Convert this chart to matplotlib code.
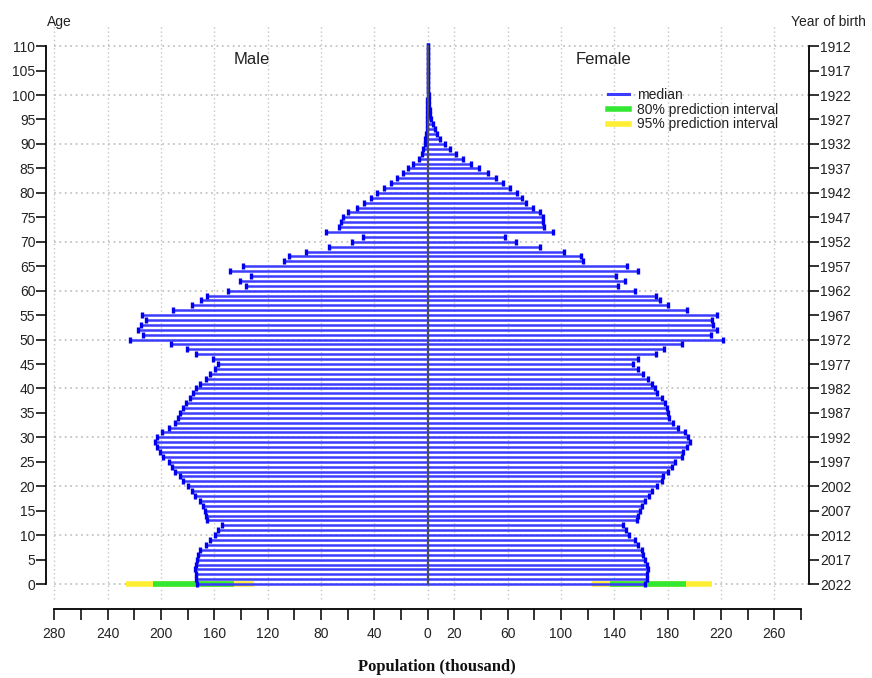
import matplotlib
matplotlib.use('Agg')
import matplotlib.pyplot as plt
from matplotlib.lines import Line2D
import numpy as np

plt.rcParams['font.family'] = ['Liberation Sans', 'DejaVu Sans']

# population by single year of age (thousand), ages 0..110
ages = np.arange(0, 111)
male = [172.8, 173.5, 173.8, 174.6, 173.8, 173.3, 172.1, 170.8, 166.3, 163.3,
        159.6, 157.1, 154.5, 165.8, 166.3, 167.1, 168.4, 170.8, 174.6, 177.0,
        179.6, 183.4, 185.8, 189.6, 192.0, 193.8, 198.3, 200.8, 202.8, 204.6,
        202.8, 199.6, 193.8, 189.6, 187.0, 185.5, 183.5, 181.0, 178.5, 176.0,
        173.5, 170.8, 166.3, 163.3, 159.5, 157.5, 161.3, 173.8, 180.3, 192.8,
        223.3, 213.8, 217.6, 215.3, 211.3, 214.6, 191.3, 177.0, 170.0, 165.8,
        149.6, 136.5, 140.8, 132.8, 148.3, 138.8, 107.6, 103.8, 91.5, 74.0,
        57.0, 48.8, 76.5, 66.5, 65.3, 63.8, 59.8, 53.3, 47.5, 42.8,
        37.8, 32.5, 27.8, 23.3, 18.8, 14.5, 10.8, 6.5, 4.5, 3.2,
        2.3, 1.7, 1.2, 0.9, 0.7, 0.5, 0.4, 0.3, 0.25, 0.2,
        0.15, 0.1, 0.1, 0.1, 0.1, 0.1, 0.1, 0.1, 0.1, 0.1, 0.1]
female = [163.0, 164.2, 164.7, 165.5, 164.2, 163.0, 161.8, 160.5, 158.0, 155.5,
          151.2, 148.8, 146.7, 157.3, 158.0, 159.3, 160.5, 163.0, 166.3, 168.0,
          171.8, 175.5, 176.8, 180.5, 183.0, 185.5, 190.5, 191.8, 194.3, 196.8,
          195.5, 193.0, 188.0, 183.8, 181.3, 180.5, 179.8, 178.0, 175.5, 172.3,
          170.5, 168.0, 165.5, 161.3, 158.0, 154.3, 158.0, 171.3, 177.3, 190.5,
          221.3, 212.3, 216.8, 214.3, 213.0, 216.8, 194.3, 180.5, 174.3, 171.3,
          155.5, 143.0, 148.0, 141.3, 158.0, 149.7, 116.7, 114.8, 102.2, 84.2,
          66.2, 58.0, 94.2, 87.2, 86.7, 86.3, 84.2, 78.8, 73.7, 70.5,
          66.8, 61.7, 56.7, 51.2, 45.5, 38.7, 32.3, 26.3, 21.2, 17.0,
          13.0, 9.5, 7.0, 5.2, 3.8, 2.8, 2.0, 1.5, 1.1, 0.8,
          0.6, 0.45, 0.35, 0.25, 0.2, 0.15, 0.1, 0.1, 0.1, 0.1, 0.1]

# prediction intervals at age 0
male_pi80 = [145, 206]
male_pi95 = [130, 226]
female_pi80 = [137, 194]
female_pi95 = [123, 213]

left_labels = [280, 240, 200, 160, 120, 80, 40, 0]
right_labels = [20, 60, 100, 140, 180, 220, 260]

blue = '#3c3cff'
green = '#33e833'
yellow = '#ffee33'
grid_c = '#c4c4c4'
txt_c = '#222222'

fig = plt.figure(figsize=(8.72, 6.78), dpi=100)
ax = fig.add_axes([0.0532, 0.1097, 0.8746, 0.8583])
ax.set_xlim(-286, 286)
ax.set_ylim(-4, 115)

# grid
xgrid = [-v for v in left_labels] + right_labels
for gx in xgrid:
    ax.plot([gx, gx], [-3, 114.5], color=grid_c, lw=1, ls=(0, (1, 2)), zorder=0)
for gy in range(0, 111, 10):
    ax.plot([-280, 286], [gy, gy], color=grid_c, lw=1.3, ls=(0, (1, 2)), zorder=0)

# prediction intervals (age 0)
ax.plot([-male_pi95[1], -male_pi95[0]], [0, 0], color=yellow, lw=4, solid_capstyle='butt', zorder=2)
ax.plot([-male_pi80[1], -male_pi80[0]], [0, 0], color=green, lw=4, solid_capstyle='butt', zorder=2)
ax.plot(female_pi95, [0, 0], color=yellow, lw=4, solid_capstyle='butt', zorder=2)
ax.plot(female_pi80, [0, 0], color=green, lw=4, solid_capstyle='butt', zorder=2)

# median bars
m = np.array(male)
f = np.array(female)
ax.hlines(ages, -m, 0, color=blue, lw=1.8, zorder=3)
ax.hlines(ages, 0, f, color=blue, lw=1.8, zorder=3)
ax.plot(-m, ages, ls='none', marker='|', ms=5, mew=2.4, color='#0000ee', zorder=4)
ax.plot(f, ages, ls='none', marker='|', ms=5, mew=2.4, color='#0000ee', zorder=4)
ax.plot([0, 0], [0, 110], color='#4a4a6a', lw=1.6, zorder=4)

# axes styling
for s in ['top', 'right']:
    ax.spines[s].set_visible(False)
ax.spines['left'].set_bounds(0, 110)
ax.spines['left'].set_linewidth(1.3)
ax.spines['bottom'].set_bounds(-280, 280)
ax.spines['bottom'].set_position(('outward', 4))
ax.spines['bottom'].set_linewidth(1.3)

ax.set_yticks(range(0, 111, 5))
ax.tick_params(axis='y', length=7, width=1.3, labelsize=10, pad=1, colors=txt_c)
xt = np.arange(-280, 281, 20)
ax.set_xticks(xt)
xlab = []
for t in xt:
    if t <= 0 and -t in left_labels:
        xlab.append(str(-t))
    elif t > 0 and t in right_labels:
        xlab.append(str(t))
    else:
        xlab.append('')
ax.set_xticklabels(xlab)
ax.tick_params(axis='x', length=8, width=1.3, labelsize=10, pad=5, colors=txt_c)

ax2 = ax.twinx()
ax2.set_ylim(ax.get_ylim())
for s in ['top', 'left', 'bottom']:
    ax2.spines[s].set_visible(False)
ax2.spines['right'].set_bounds(0, 110)
ax2.spines['right'].set_linewidth(1.3)
ax2.set_yticks(range(0, 111, 5))
ax2.set_yticklabels([str(2022 - a) for a in range(0, 111, 5)])
ax2.tick_params(axis='y', length=7, width=1.3, labelsize=10, pad=1, colors=txt_c)

ax.text(-132, 107.2, 'Male', ha='center', va='center', fontsize=12, color=txt_c)
ax.text(132, 107.2, 'Female', ha='center', va='center', fontsize=12, color=txt_c)

fig.text(59 / 872, 1 - 22 / 678, 'Age', ha='center', va='center', fontsize=10, color=txt_c)
fig.text(828 / 872, 1 - 22 / 678, 'Year of birth', ha='center', va='center', fontsize=10, color=txt_c)
fig.text(437 / 872, 1 - 667 / 678, 'Population (thousand)', ha='center', va='center',
         fontsize=12, fontweight='bold', family='Liberation Serif', color='#111111')

handles = [Line2D([], [], color=blue, lw=2.2),
           Line2D([], [], color=green, lw=4),
           Line2D([], [], color=yellow, lw=4)]
ax.legend(handles, ['median', '80% prediction interval', '95% prediction interval'],
          loc='upper left', bbox_to_anchor=(608 / 872, 1 - 88 / 678),
          bbox_transform=fig.transFigure, frameon=False, fontsize=10,
          handlelength=1.5, handletextpad=0.6, labelspacing=0.05, borderpad=0,
          borderaxespad=0, labelcolor=txt_c)

fig.savefig('out.png', dpi=100)
plt.close(fig)
